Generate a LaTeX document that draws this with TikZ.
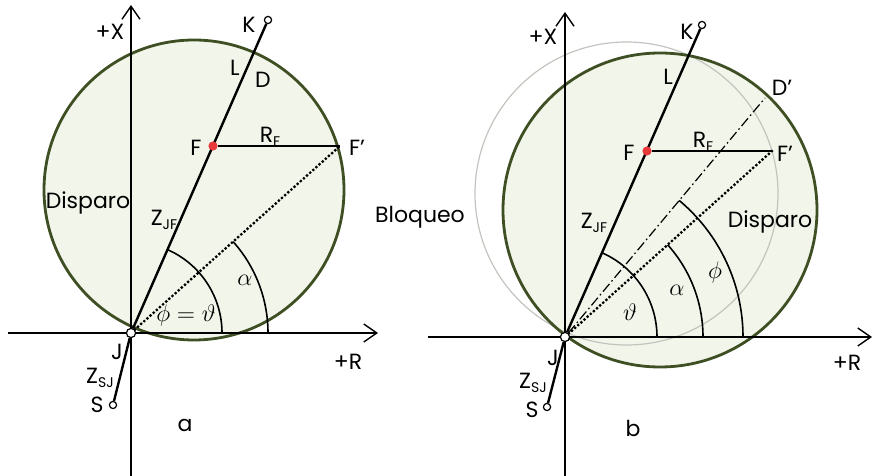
\documentclass[tikz,border=0pt]{standalone}
\usepackage{fontspec}
\setmainfont{Poppins}
\usetikzlibrary{arrows.meta}
\definecolor{ringgreen}{HTML}{3E4F24}
\definecolor{pale}{HTML}{F2F5E9}
\definecolor{faint}{HTML}{C2C5BE}
\definecolor{dotred}{HTML}{E8383A}
\newcommand{\subl}[2]{#1\raisebox{-0.3ex}{\fontsize{7}{8}\selectfont #2}}
\begin{document}
\begin{tikzpicture}[x=0.5pt,y=0.5pt,
  lbl/.style={font=\fontsize{11}{13}\selectfont, inner sep=0pt},
  mlbl/.style={font=\fontsize{12}{14}\selectfont, inner sep=0pt},
  axis/.style={line width=0.7pt, -{Straight Barb[length=6.5pt,width=9pt]}},
  seg/.style={line width=1.2pt},
  arcl/.style={line width=0.8pt},
  dots/.style={line width=1.6pt, dash pattern=on 0pt off 2.1pt, line cap=round},
  dashdot/.style={line width=0.6pt, dash pattern=on 5pt off 1.6pt on 0.8pt off 1.6pt},
  ring/.style={draw=ringgreen, line width=1.4pt},
  thinring/.style={draw=faint, line width=0.6pt},
  endpt/.style={circle, draw, fill=white, inner sep=0pt, minimum size=3.6pt, line width=0.6pt},
  jpt/.style={circle, draw, fill=white, inner sep=0pt, minimum size=4.6pt, line width=0.6pt},
  fpt/.style={circle, fill=dotred, inner sep=0pt, minimum size=4.6pt}]
\useasboundingbox (0,0) rectangle (873,476);

% ---------------- panel a ----------------
\fill[pale] (194,286) circle[radius=75pt];
\draw[ring] (194,286) circle[radius=75pt];
\coordinate (axs) at (131,0);
\coordinate (axe) at (131,471);
\coordinate (ars) at (8,143);
\coordinate (are) at (378,143);
\draw[axis] (axs) -- (axe);
\draw[axis] (ars) -- (are);
\coordinate (aFp) at (340,330);
\node[endpt] (aK) at (268,456) {};
\node[endpt] (aS) at (113,71) {};
\node[jpt] (aJ) at (131,143) {};
\draw[seg] (aJ) -- (aK);
\draw[seg] (aJ) -- (aS);
\draw[dots] (aJ) -- (aFp);
\node[fpt] (aF) at (213,330) {};
\draw[seg] (aF) -- (aFp);
\draw[arcl] ([shift={(45.5pt,0)}]aJ.center) arc[start angle=0,end angle=66.4,radius=45.5pt];
\draw[arcl] ([shift={(68.5pt,0)}]aJ.center) arc[start angle=0,end angle=41.8,radius=68.5pt];

\node[lbl] (aXl) at (110,444) {+X};
\node[lbl] (aKl) at (249,451) {K};
\node[lbl] (aLl) at (235,408) {L};
\node[lbl] (aDl) at (263,396) {D};
\node[lbl] (aFl) at (196,328) {F};
\node[lbl] (aRl) at (270,339) {\subl{R}{F}};
\node[lbl] (aFpl) at (357,328) {F'};
\node[lbl] (aDis) at (88,273) {Disparo};
\node[lbl] (aZjf) at (164,256) {\subl{Z}{JF}};
\node[mlbl] (aal) at (245,196) {$\alpha$};
\node[mlbl] (aphl) at (186,160) {$\phi=\vartheta$};
\node[lbl] (aJl) at (117,124) {J};
\node[lbl] (aZsj) at (100,98) {\subl{Z}{SJ}};
\node[lbl] (aSl) at (97,71) {S};
\node[lbl] (aRax) at (348,114) {+R};
\node[lbl] (acap) at (185,51) {a};

% ---------------- panel b ----------------
\fill[pale] (660,266) circle[radius=78.5pt];
\draw[thinring] (626.5,282.5) circle[radius=75.75pt];
\draw[ring] (660,266) circle[radius=78.5pt];
\coordinate (bxs) at (565,0);
\coordinate (bxe) at (565,464);
\coordinate (brs) at (428,139);
\coordinate (bre) at (872,139);
\draw[axis] (bxs) -- (bxe);
\draw[axis] (brs) -- (bre);
\coordinate (bFp) at (772,325);
\coordinate (bDp) at (765,378);
\node[endpt] (bK) at (702,451) {};
\node[endpt] (bS) at (547,69) {};
\node[jpt] (bJ) at (565,139) {};
\draw[seg] (bJ) -- (bK);
\draw[seg] (bJ) -- (bS);
\draw[dots] (bJ) -- (bFp);
\draw[dashdot] (bJ) -- (bDp);
\node[fpt] (bF) at (647,325) {};
\draw[seg] (bF) -- (bFp);
\draw[arcl] ([shift={(46pt,0)}]bJ.center) arc[start angle=0,end angle=66.3,radius=46pt];
\draw[arcl] ([shift={(69pt,0)}]bJ.center) arc[start angle=0,end angle=41.9,radius=69pt];
\draw[arcl] ([shift={(89pt,0)}]bJ.center) arc[start angle=0,end angle=50.1,radius=89pt];

\node[lbl] (bXl) at (543,439) {+X};
\node[lbl] (bKl) at (687,444) {K};
\node[lbl] (bLl) at (668,399) {L};
\node[lbl] (bDpl) at (782,388) {D'};
\node[lbl] (bFl) at (629,323) {F};
\node[lbl] (bRl) at (703,334) {\subl{R}{F}};
\node[lbl] (bFpl) at (785,322) {F'};
\node[lbl] (bZjf) at (594,253) {\subl{Z}{JF}};
\node[lbl] (bDis) at (770,254) {Disparo};
\node[lbl] (bBlo) at (420,259) {Bloqueo};
\node[mlbl] (bthl) at (630,164) {$\vartheta$};
\node[mlbl] (bal) at (677,186) {$\alpha$};
\node[mlbl] (bphl) at (715,203) {$\phi$};
\node[lbl] (bJl) at (553,118) {J};
\node[lbl] (bZsj) at (533,93) {\subl{Z}{SJ}};
\node[lbl] (bSl) at (532,66) {S};
\node[lbl] (bRax) at (847,113) {+R};
\node[lbl] (bcap) at (633,48) {b};
\end{tikzpicture}
\end{document}
